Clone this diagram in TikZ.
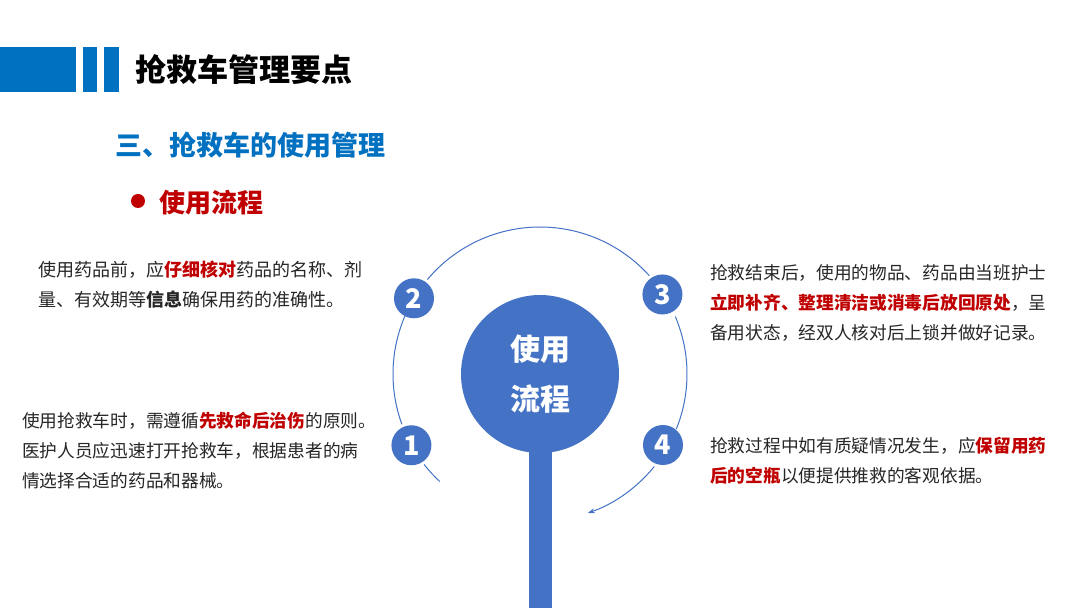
\documentclass[tikz,border=0pt]{standalone}
\usepackage{fontspec}
\setmainfont{Noto Sans CJK SC}
\usetikzlibrary{arrows.meta,positioning}
\definecolor{barblue}{HTML}{0070C0}
\definecolor{flowblue}{HTML}{4472C4}
\definecolor{keyred}{HTML}{C00000}
\definecolor{bodygray}{HTML}{262626}
\newcommand{\hl}[1]{\textcolor{keyred}{\textbf{#1}}}
\tikzset{
  numdot/.style={circle,fill=flowblue,minimum size=40pt,inner sep=0pt,text=white,
    font=\fontsize{27}{27}\selectfont\bfseries},
  hubdot/.style={circle,fill=flowblue,minimum size=158pt,inner sep=0pt,text=white,
    align=center,font=\fontsize{30}{50}\selectfont\bfseries},
  ring/.style={flowblue,line width=1pt},
  para/.style={anchor=north west,align=left,inner sep=0pt,text=bodygray,
    font=\fontsize{17.7}{30}\selectfont},
}

\begin{document}
\begin{tikzpicture}[x=1pt,y=1pt]
    \fill[white] (0,0) rectangle (1080,608);
    \useasboundingbox (0,0) rectangle (1080,608);
    % title bar
    \fill[barblue] (0,516) rectangle (76,561);
    \fill[barblue] (83,516) rectangle (97,561);
    \fill[barblue] (104,516) rectangle (119,561);
    \node[anchor=west,inner sep=0pt,font=\fontsize{31}{31}\selectfont\bfseries] (title) at (135,538) {抢救车管理要点};
    \node[anchor=west,inner sep=0pt,text=barblue,font=\fontsize{27}{27}\selectfont\bfseries] (sub) at (115,463) {三、抢救车的使用管理};
    \fill[keyred] (138,407) circle (7);
    \node[anchor=west,inner sep=0pt,text=keyred,font=\fontsize{26}{26}\selectfont\bfseries] (flow) at (159,405) {使用流程};
    % hub and stem
    \fill[flowblue] (529,0) rectangle (552,234);
    \node[hubdot] (hub) at (540,234) {使用\\流程};
    % ring
    \draw[ring] ([shift={(140:147)}]hub.center) arc[start angle=140,end angle=42,radius=147];
    \draw[ring] ([shift={(156:147)}]hub.center) arc[start angle=156,end angle=200,radius=147];
    \draw[ring] ([shift={(218:147)}]hub.center) arc[start angle=218,end angle=227,radius=147];
    \draw[ring] ([shift={(23:147)}]hub.center) arc[start angle=23,end angle=-22,radius=147];
    \draw[ring,-{Stealth[length=7pt,width=5pt]}] ([shift={(-39:147)}]hub.center) arc[start angle=-39,end angle=-71,radius=147];
    \node[numdot] (n1) at ([shift={(209:147)}]hub.center) {1};
    \node[numdot] (n2) at ([shift={(149:147)}]hub.center) {2};
    \node[numdot] (n3) at ([shift={(33:146)}]hub.center) {3};
    \node[numdot] (n4) at ([shift={(330:142)}]hub.center) {4};
    % step texts
    \node[para,font=\fontsize{18}{30}\selectfont] (t2) at (38,347) {使用药品前，应\hl{仔细核对}药品的名称、剂\\量、有效期等\textbf{信息}确保用药的准确性。};
    \node[para] (t1) at (22,196) {使用抢救车时，需遵循\hl{先救命后治伤}的原则。\\医护人员应迅速打开抢救车，根据患者的病\\情选择合适的药品和器械。};
    \node[para] (t3) at (710,344) {抢救结束后，使用的物品、药品由当班护士\\\hl{立即补齐、整理清洁或消毒后放回原处}，呈\\备用状态，经双人核对后上锁并做好记录。};
    \node[para] (t4) at (710,171) {抢救过程中如有质疑情况发生，应\hl{保留用药}\\\hl{后的空瓶}以便提供推救的客观依据。};
\end{tikzpicture}
\end{document}
